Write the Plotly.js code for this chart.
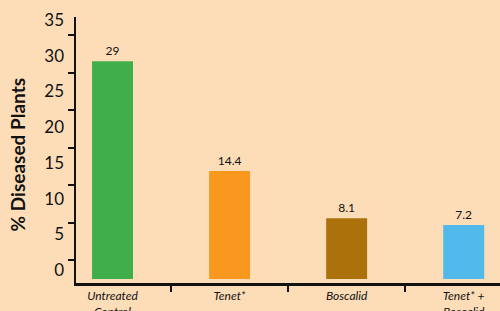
<!DOCTYPE html>
<html><head><meta charset="utf-8">
<script src="https://cdn.plot.ly/plotly-3.0.1.min.js"></script>
<style>html,body{margin:0;padding:0;background:#FDDDB8;}#c{width:500px;height:311px;}</style>
</head><body><div id="c"></div>
<script>
const categories = ["Untreated<br>Control", "Tenet*", "Boscalid", "Tenet* +<br>Boscalid"];
const values = [29, 14.4, 8.1, 7.2];
const valueLabels = ["29", "14.4", "8.1", "7.2"];
const barColors = ["#40AE4B", "#F8981E", "#AB710A", "#52BAEA"];
const yTickLabels = ["0", "5", "10", "15", "20", "25", "30", "35"];
const yTickVals = [0, 5, 10, 15, 20, 25, 30, 35];
const yTickMarks = [2.5, 7.5, 12.5, 17.5, 22.5, 27.5, 32.5];

const bg = "#FDDDB8";
const font = "Lato, 'Open Sans', sans-serif";

const data = [{
  type: "bar",
  x: categories,
  y: values,
  marker: {color: barColors},
  width: 0.35,
  text: valueLabels,
  textposition: "outside",
  cliponaxis: false,
  textfont: {family: font, size: 12, color: "#111"},
  hoverinfo: "none"
}, {
  type: "scatter",
  x: [categories[0]],
  y: [0],
  yaxis: "y2",
  mode: "markers",
  marker: {opacity: 0},
  hoverinfo: "none",
  showlegend: false
}];

const layout = {
  width: 500, height: 311,
  margin: {l: 76, r: 0, t: 17, b: 28},
  paper_bgcolor: bg, plot_bgcolor: bg,
  showlegend: false,
  bargap: 0.65,
  font: {family: font, color: "#111"},
  xaxis: {
    type: "category",
    range: [-0.312, 3.31],
    showline: true, linecolor: "#111", linewidth: 2.5,
    ticks: "outside", tickson: "boundaries", ticklen: 6, tickwidth: 2, tickcolor: "#111",
    tickfont: {family: font, size: 12, style: "italic", color: "#111"},
    showgrid: false, zeroline: false, fixedrange: true
  },
  yaxis: {
    range: [-0.53, 34.9],
    showline: true, linecolor: "#111", linewidth: 2.5,
    ticks: "outside", ticklen: 6, tickwidth: 2, tickcolor: "#111",
    tickmode: "array", tickvals: yTickMarks, showticklabels: false,
    showgrid: false, zeroline: false, fixedrange: true
  },
  yaxis2: {
    overlaying: "y", side: "left",
    range: [-1.82, 35.42],
    tickmode: "array", tickvals: yTickVals, ticktext: yTickLabels,
    ticks: "", showline: false, showgrid: false, zeroline: false,
    ticklabelstandoff: 11,
    tickfont: {family: font, size: 17, color: "#111"},
    fixedrange: true
  },
  annotations: [{
    text: "<b>% Diseased Plants</b>",
    xref: "paper", yref: "paper",
    x: -0.139, y: 0.48,
    xanchor: "center", yanchor: "middle",
    textangle: -90, showarrow: false,
    font: {family: font, size: 19, color: "#111"}
  }]
};

Plotly.newPlot("c", data, layout, {displayModeBar: false, staticPlot: true});
</script>
</body></html>
